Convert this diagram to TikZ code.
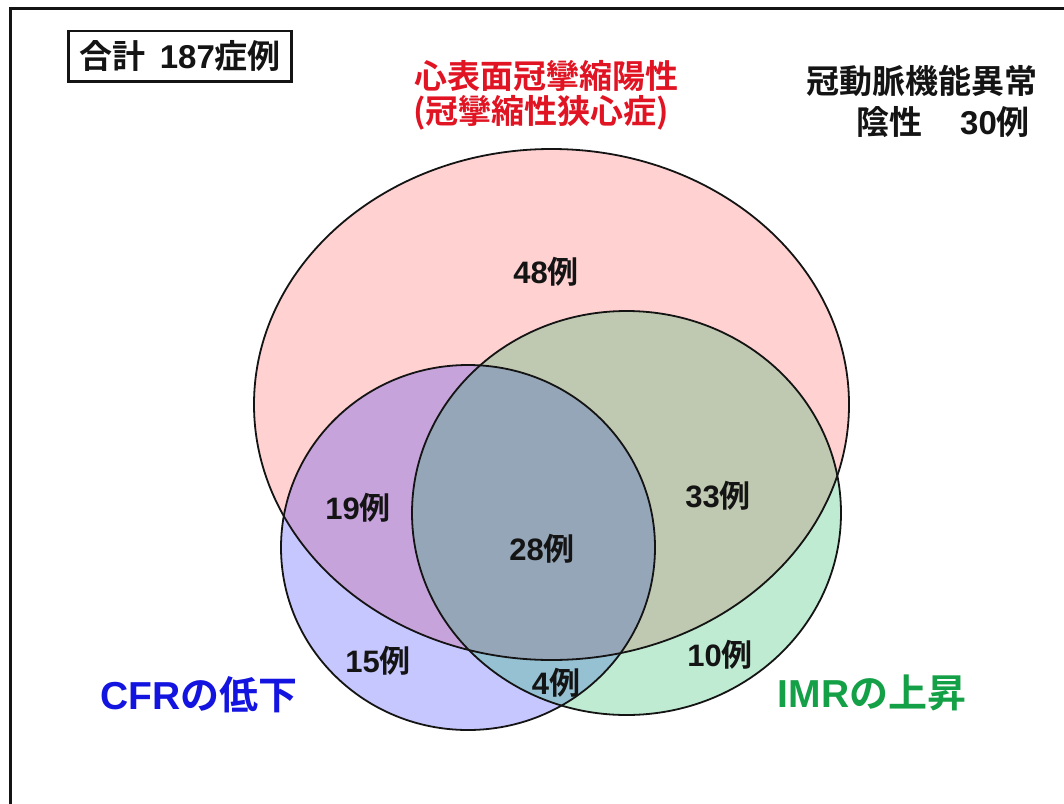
\documentclass[tikz,border=0pt]{standalone}
\usepackage{fontspec}
\setmainfont{Liberation Sans}
\newfontfamily\jp{Noto Sans CJK JP}[BoldFont={* Bold}]
\newcommand\J[1]{{\jp #1}}
\definecolor{titlered}{RGB}{225,20,35}
\definecolor{cfrblue}{RGB}{20,20,225}
\definecolor{imrgreen}{RGB}{20,160,70}
\definecolor{vgreen}{RGB}{0,176,80}
\definecolor{ink}{RGB}{20,20,20}
\begin{document}
\begin{tikzpicture}[x=1pt,y=-1pt,
  venn/.style={draw=ink,line width=1.8pt},
  num/.style={font=\fontsize{31}{36}\selectfont\bfseries,text=ink,inner sep=0pt},
  title/.style={font=\fontsize{33}{38}\selectfont\bfseries,inner sep=0pt,align=center},
  setlabel/.style={font=\fontsize{39}{44}\selectfont\bfseries,inner sep=0pt}]
\useasboundingbox (0,0) rectangle (1064,803);
\fill[white] (0,0) rectangle (1064,803);
% outer frame
\draw[line width=3pt,ink] (10,810) -- (10,8.5) -- (1070,8.5);
% total box
\draw[line width=2.2pt,ink] (68.5,31) rectangle (291.5,81.5);
\node[title,text=ink] (total) at (180,56) {\J{合計}\hspace{0.45em}187\J{症例}};
% ellipses
\fill[red,opacity=0.18] (551.5,404.5) ellipse [x radius=297.5, y radius=255.5];
\fill[blue,opacity=0.22] (468,547.5) ellipse [x radius=187, y radius=182.5];
\fill[vgreen,opacity=0.25] (626.5,513) ellipse [x radius=214.5, y radius=202];
\draw[venn] (551.5,404.5) ellipse [x radius=297.5, y radius=255.5];
\draw[venn] (468,547.5) ellipse [x radius=187, y radius=182.5];
\draw[venn] (626.5,513) ellipse [x radius=214.5, y radius=202];
% titles
\node[title,text=titlered] (redt1) at (546,76) {\J{心表面冠攣縮陽性}};
\node[title,text=titlered] (redt2) at (541,113) {\J{(冠攣縮性狭心症)}};
\node[title,text=ink] (neg1) at (922,81) {\J{冠動脈機能異常}};
\node[title,text=ink,anchor=west] (neg2) at (856,122) {\J{陰性}\hspace{1.15em}30\J{例}};
% set labels
\node[setlabel,text=cfrblue] (cfr) at (199,695) {CFR\J{の低下}};
\node[setlabel,text=imrgreen] (imr) at (872,693) {IMR\J{の上昇}};
% counts
\node[num] (n48) at (546,272) {48\J{例}};
\node[num] (n19) at (358,508) {19\J{例}};
\node[num] (n28) at (542,549) {28\J{例}};
\node[num] (n33) at (718,496) {33\J{例}};
\node[num] (n15) at (378,661) {15\J{例}};
\node[num] (n4) at (556,683) {4\J{例}};
\node[num] (n10) at (720,655) {10\J{例}};
\end{tikzpicture}
\end{document}
